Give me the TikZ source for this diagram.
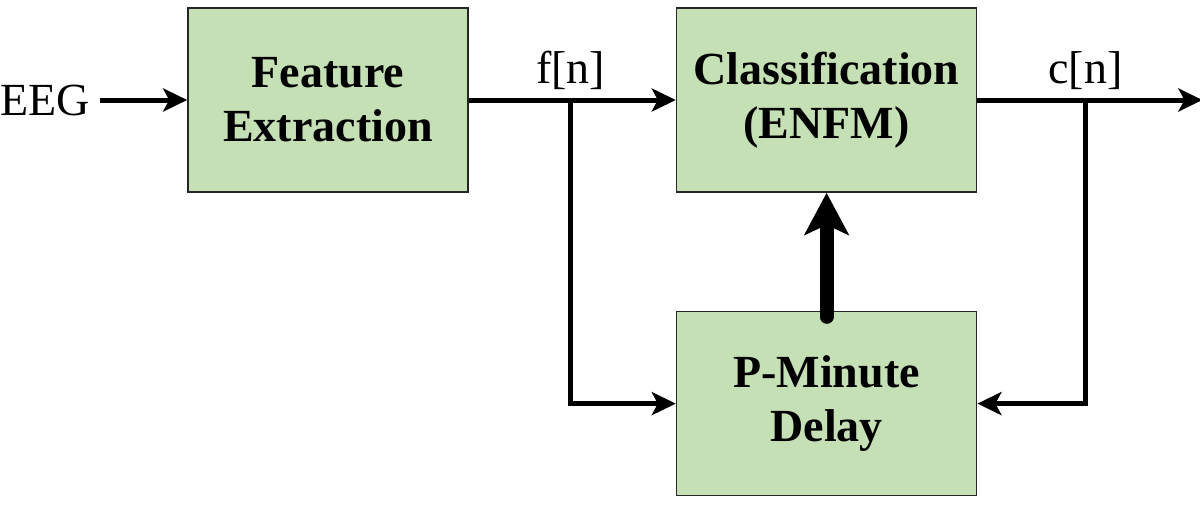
\documentclass[tikz,border=0pt]{standalone}
\usepackage{fontspec}
\setmainfont{Liberation Serif}
\usetikzlibrary{arrows.meta}
\usetikzlibrary{positioning}

\definecolor{boxgreen}{HTML}{C5E0B4}

\begin{document}
\begin{tikzpicture}[x=0.5pt, y=-0.5pt]

\tikzset{
    block/.style={draw=black!85, line width=0.8pt, fill=boxgreen, align=center,
        font=\fontsize{23}{27}\selectfont\bfseries, minimum width=#1, minimum height=92pt},
    sig/.style={-{Stealth[length=12pt, width=11.5pt, inset=3pt]}, line width=2.5pt},
    fatarrow/.style={-{Stealth[length=21pt, width=22pt, inset=5pt]}, line width=7pt, line cap=round},
    sigtext/.style={font=\fontsize{23}{27}\selectfont, inner sep=0pt}
}

\useasboundingbox (0,0) rectangle (1200,515);

%%%%%%%%%%%%%%%%%%%%%%%%%%%%%%%%%%%%%%%%%%%%%%%%%%%%%%%%%
%                       Begin Picture                   %
%%%%%%%%%%%%%%%%%%%%%%%%%%%%%%%%%%%%%%%%%%%%%%%%%%%%%%%%%

% Block Feature Extraction
\node[block=140pt] (fe) at (328,100) {Feature\\Extraction};

% Input
\node[sigtext, anchor=west] (eeg) at (0,100) {EEG};
\draw[sig, shorten <=5pt] (eeg.east) -- (fe.west);

% Block Classification
\node[block=150pt, right=103.5pt of fe] (cl) {Classification\\(ENFM)};

% Block Delay
\node[block=150pt, below=59pt of cl] (pd) {P-Minute\\Delay};

%%% Feature branch %%%
\coordinate[right=51pt of fe.east] (fb);
\node[sigtext, above=5pt of fb] (fn) {f[n]};
\draw[sig] (fe.east) -- (cl.west);
\draw[sig] (fb) |- (pd.west);

%%% Output branch %%%
\coordinate[right=54pt of cl.east] (cb);
\coordinate[right=112.5pt of cl.east] (out);
\node[sigtext, above=5pt of cb] (cn) {c[n]};
\draw[sig] (cl.east) -- (out);
\draw[sig] (cb) |- (pd.east);

% Delay back into classifier
\draw[fatarrow] ([yshift=-3pt]pd.north) -- (cl.south);

\end{tikzpicture}
\end{document}
